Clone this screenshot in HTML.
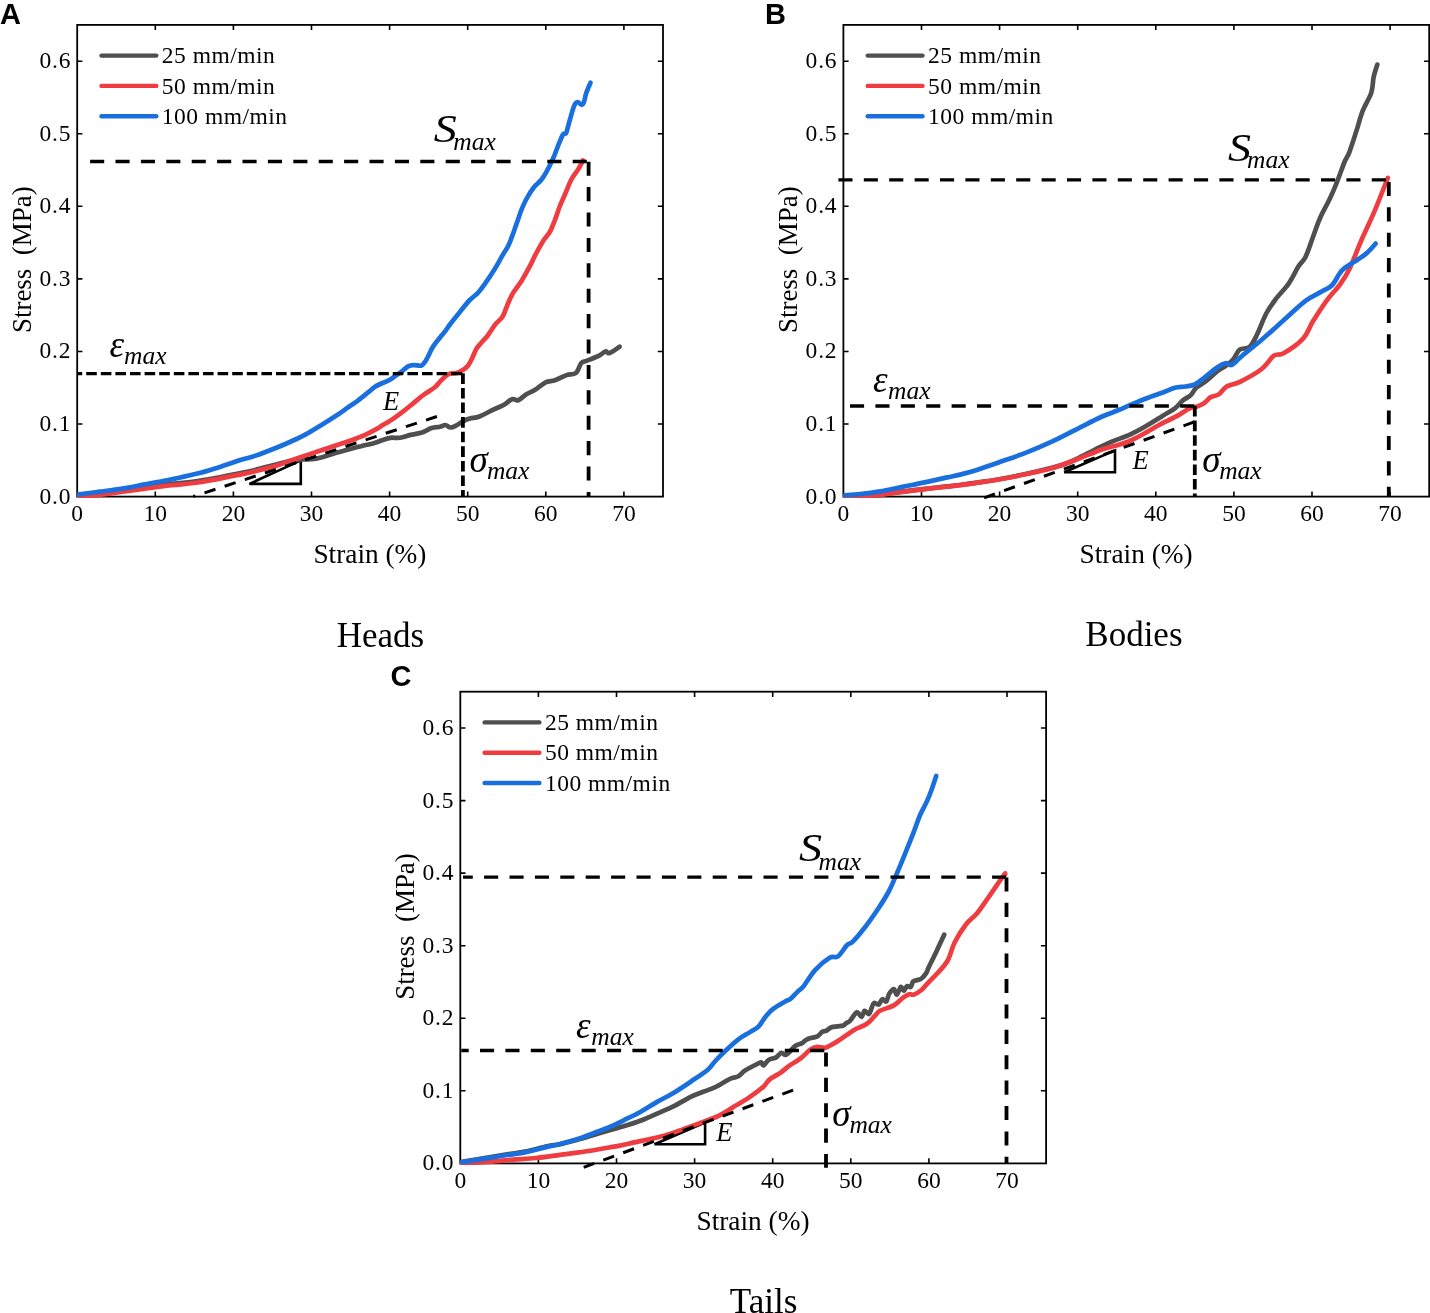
<!DOCTYPE html>
<html><head><meta charset="utf-8"><title>Stress-strain curves</title>
<style>
html,body{margin:0;padding:0;background:#fff;}
body{width:1430px;height:1313px;overflow:hidden;}
svg{display:block;will-change:transform;}
.tk{font-family:"Liberation Serif", serif;font-size:23.5px;fill:#000;}
.al{font-family:"Liberation Serif", serif;font-size:28px;fill:#000;}
.cap{font-family:"Liberation Serif", serif;font-size:35px;fill:#000;}
.pl{font-family:"Liberation Sans", sans-serif;font-size:29px;font-weight:bold;fill:#000;}
.big{font-family:"Liberation Serif", serif;font-size:40px;font-style:italic;fill:#000;}
.gk{font-family:"Liberation Serif", serif;font-size:37px;font-style:italic;fill:#000;}
.yl{letter-spacing:0.8px;}
.lg{letter-spacing:0.5px;}
.sub{font-family:"Liberation Serif", serif;font-size:25.5px;font-style:italic;fill:#000;}
.E{font-family:"Liberation Serif", serif;font-size:26.5px;font-style:italic;fill:#000;}
</style></head><body>
<svg width="1430" height="1313" viewBox="0 0 1430 1313">
<rect width="1430" height="1313" fill="#fff"/>
<text x="0" y="24.3" class="pl">A</text>
<text x="765" y="24.1" class="pl">B</text>
<text x="390.6" y="685.8" class="pl">C</text>
<rect x="77.2" y="24.9" width="585.8" height="471.7" fill="none" stroke="#000" stroke-width="1.8"/>
<path d="M155.3 496.6V491.4M155.3 24.9V30.1M233.4 496.6V491.4M233.4 24.9V30.1M311.5 496.6V491.4M311.5 24.9V30.1M389.6 496.6V491.4M389.6 24.9V30.1M467.7 496.6V491.4M467.7 24.9V30.1M545.8 496.6V491.4M545.8 24.9V30.1M623.9 496.6V491.4M623.9 24.9V30.1M77.2 424.0H82.4M663.0 424.0H657.8M77.2 351.5H82.4M663.0 351.5H657.8M77.2 278.9H82.4M663.0 278.9H657.8M77.2 206.3H82.4M663.0 206.3H657.8M77.2 133.8H82.4M663.0 133.8H657.8M77.2 61.2H82.4M663.0 61.2H657.8" stroke="#000" stroke-width="1.6" fill="none"/>
<text x="77.2" y="521.2" text-anchor="middle" class="tk">0</text>
<text x="155.3" y="521.2" text-anchor="middle" class="tk">10</text>
<text x="233.4" y="521.2" text-anchor="middle" class="tk">20</text>
<text x="311.5" y="521.2" text-anchor="middle" class="tk">30</text>
<text x="389.6" y="521.2" text-anchor="middle" class="tk">40</text>
<text x="467.7" y="521.2" text-anchor="middle" class="tk">50</text>
<text x="545.8" y="521.2" text-anchor="middle" class="tk">60</text>
<text x="623.9" y="521.2" text-anchor="middle" class="tk">70</text>
<text x="71.2" y="503.5" text-anchor="end" class="tk yl">0.0</text>
<text x="71.2" y="430.9" text-anchor="end" class="tk yl">0.1</text>
<text x="71.2" y="358.4" text-anchor="end" class="tk yl">0.2</text>
<text x="71.2" y="285.8" text-anchor="end" class="tk yl">0.3</text>
<text x="71.2" y="213.2" text-anchor="end" class="tk yl">0.4</text>
<text x="71.2" y="140.7" text-anchor="end" class="tk yl">0.5</text>
<text x="71.2" y="68.1" text-anchor="end" class="tk yl">0.6</text>
<text x="369.9" y="562.8" text-anchor="middle" class="al" textLength="113" lengthAdjust="spacingAndGlyphs">Strain (%)</text>
<text transform="translate(30.8 259.7) rotate(-90)" text-anchor="middle" class="al" textLength="146.6" lengthAdjust="spacingAndGlyphs" xml:space="preserve">Stress  (MPa)</text>
<line x1="101.5" y1="55.6" x2="156.3" y2="55.6" stroke="#4f4f4f" stroke-width="4.4" stroke-linecap="round"/>
<text x="161.8" y="63.3" class="tk lg">25 mm/min</text>
<line x1="101.5" y1="85.9" x2="156.3" y2="85.9" stroke="#ee3c40" stroke-width="4.4" stroke-linecap="round"/>
<text x="161.8" y="93.6" class="tk lg">50 mm/min</text>
<line x1="101.5" y1="116.2" x2="156.3" y2="116.2" stroke="#1a6fdf" stroke-width="4.4" stroke-linecap="round"/>
<text x="161.8" y="123.9" class="tk lg">100 mm/min</text>
<rect x="843.4" y="24.9" width="585.8" height="471.7" fill="none" stroke="#000" stroke-width="1.8"/>
<path d="M921.5 496.6V491.4M921.5 24.9V30.1M999.6 496.6V491.4M999.6 24.9V30.1M1077.7 496.6V491.4M1077.7 24.9V30.1M1155.8 496.6V491.4M1155.8 24.9V30.1M1233.9 496.6V491.4M1233.9 24.9V30.1M1312.0 496.6V491.4M1312.0 24.9V30.1M1390.1 496.6V491.4M1390.1 24.9V30.1M843.4 424.0H848.6M1429.2 424.0H1424.0M843.4 351.5H848.6M1429.2 351.5H1424.0M843.4 278.9H848.6M1429.2 278.9H1424.0M843.4 206.3H848.6M1429.2 206.3H1424.0M843.4 133.8H848.6M1429.2 133.8H1424.0M843.4 61.2H848.6M1429.2 61.2H1424.0" stroke="#000" stroke-width="1.6" fill="none"/>
<text x="843.4" y="521.2" text-anchor="middle" class="tk">0</text>
<text x="921.5" y="521.2" text-anchor="middle" class="tk">10</text>
<text x="999.6" y="521.2" text-anchor="middle" class="tk">20</text>
<text x="1077.7" y="521.2" text-anchor="middle" class="tk">30</text>
<text x="1155.8" y="521.2" text-anchor="middle" class="tk">40</text>
<text x="1233.9" y="521.2" text-anchor="middle" class="tk">50</text>
<text x="1312.0" y="521.2" text-anchor="middle" class="tk">60</text>
<text x="1390.1" y="521.2" text-anchor="middle" class="tk">70</text>
<text x="837.4" y="503.5" text-anchor="end" class="tk yl">0.0</text>
<text x="837.4" y="430.9" text-anchor="end" class="tk yl">0.1</text>
<text x="837.4" y="358.4" text-anchor="end" class="tk yl">0.2</text>
<text x="837.4" y="285.8" text-anchor="end" class="tk yl">0.3</text>
<text x="837.4" y="213.2" text-anchor="end" class="tk yl">0.4</text>
<text x="837.4" y="140.7" text-anchor="end" class="tk yl">0.5</text>
<text x="837.4" y="68.1" text-anchor="end" class="tk yl">0.6</text>
<text x="1136.1" y="562.8" text-anchor="middle" class="al" textLength="113" lengthAdjust="spacingAndGlyphs">Strain (%)</text>
<text transform="translate(797.0 259.7) rotate(-90)" text-anchor="middle" class="al" textLength="146.6" lengthAdjust="spacingAndGlyphs" xml:space="preserve">Stress  (MPa)</text>
<line x1="867.7" y1="55.6" x2="922.5" y2="55.6" stroke="#4f4f4f" stroke-width="4.4" stroke-linecap="round"/>
<text x="928.0" y="63.3" class="tk lg">25 mm/min</text>
<line x1="867.7" y1="85.9" x2="922.5" y2="85.9" stroke="#ee3c40" stroke-width="4.4" stroke-linecap="round"/>
<text x="928.0" y="93.6" class="tk lg">50 mm/min</text>
<line x1="867.7" y1="116.2" x2="922.5" y2="116.2" stroke="#1a6fdf" stroke-width="4.4" stroke-linecap="round"/>
<text x="928.0" y="123.9" class="tk lg">100 mm/min</text>
<rect x="460.3" y="691.7" width="585.8" height="471.7" fill="none" stroke="#000" stroke-width="1.8"/>
<path d="M538.4 1163.4V1158.2M538.4 691.7V696.9M616.5 1163.4V1158.2M616.5 691.7V696.9M694.6 1163.4V1158.2M694.6 691.7V696.9M772.7 1163.4V1158.2M772.7 691.7V696.9M850.8 1163.4V1158.2M850.8 691.7V696.9M928.9 1163.4V1158.2M928.9 691.7V696.9M1007.0 1163.4V1158.2M1007.0 691.7V696.9M460.3 1090.8H465.5M1046.1 1090.8H1040.9M460.3 1018.3H465.5M1046.1 1018.3H1040.9M460.3 945.7H465.5M1046.1 945.7H1040.9M460.3 873.1H465.5M1046.1 873.1H1040.9M460.3 800.6H465.5M1046.1 800.6H1040.9M460.3 728.0H465.5M1046.1 728.0H1040.9" stroke="#000" stroke-width="1.6" fill="none"/>
<text x="460.3" y="1188.0" text-anchor="middle" class="tk">0</text>
<text x="538.4" y="1188.0" text-anchor="middle" class="tk">10</text>
<text x="616.5" y="1188.0" text-anchor="middle" class="tk">20</text>
<text x="694.6" y="1188.0" text-anchor="middle" class="tk">30</text>
<text x="772.7" y="1188.0" text-anchor="middle" class="tk">40</text>
<text x="850.8" y="1188.0" text-anchor="middle" class="tk">50</text>
<text x="928.9" y="1188.0" text-anchor="middle" class="tk">60</text>
<text x="1007.0" y="1188.0" text-anchor="middle" class="tk">70</text>
<text x="454.3" y="1170.3" text-anchor="end" class="tk yl">0.0</text>
<text x="454.3" y="1097.7" text-anchor="end" class="tk yl">0.1</text>
<text x="454.3" y="1025.2" text-anchor="end" class="tk yl">0.2</text>
<text x="454.3" y="952.6" text-anchor="end" class="tk yl">0.3</text>
<text x="454.3" y="880.0" text-anchor="end" class="tk yl">0.4</text>
<text x="454.3" y="807.5" text-anchor="end" class="tk yl">0.5</text>
<text x="454.3" y="734.9" text-anchor="end" class="tk yl">0.6</text>
<text x="753.0" y="1229.6" text-anchor="middle" class="al" textLength="113" lengthAdjust="spacingAndGlyphs">Strain (%)</text>
<text transform="translate(413.9 926.5) rotate(-90)" text-anchor="middle" class="al" textLength="146.6" lengthAdjust="spacingAndGlyphs" xml:space="preserve">Stress  (MPa)</text>
<line x1="484.6" y1="722.4" x2="539.4" y2="722.4" stroke="#4f4f4f" stroke-width="4.4" stroke-linecap="round"/>
<text x="544.9" y="730.1" class="tk lg">25 mm/min</text>
<line x1="484.6" y1="752.7" x2="539.4" y2="752.7" stroke="#ee3c40" stroke-width="4.4" stroke-linecap="round"/>
<text x="544.9" y="760.4" class="tk lg">50 mm/min</text>
<line x1="484.6" y1="783.0" x2="539.4" y2="783.0" stroke="#1a6fdf" stroke-width="4.4" stroke-linecap="round"/>
<text x="544.9" y="790.7" class="tk lg">100 mm/min</text>
<path d="M249.4 483.9L300.8 483.9L300.8 460.4Z" fill="none" stroke="#000" stroke-width="2.6" stroke-linejoin="miter"/>
<path d="M1064.2 472.2L1115.0 472.2L1115.0 450.4Z" fill="none" stroke="#000" stroke-width="2.6" stroke-linejoin="miter"/>
<path d="M654.5 1144.3L705.1 1144.3L705.1 1122.5Z" fill="none" stroke="#000" stroke-width="2.6" stroke-linejoin="miter"/>
<defs>
<clipPath id="clipA"><rect x="77.2" y="14.9" width="595.8" height="483.2"/></clipPath>
<clipPath id="clipB"><rect x="843.4" y="14.9" width="595.8" height="483.2"/></clipPath>
<clipPath id="clipC"><rect x="460.3" y="681.7" width="595.8" height="483.2"/></clipPath>
</defs>
<g clip-path="url(#clipA)">
<path d="M77.5 496.2C81.2 495.8 92.5 494.5 100.0 493.5C107.5 492.5 114.9 491.4 122.4 490.4C129.9 489.4 137.4 488.3 144.8 487.3C152.2 486.3 162.1 484.9 167.1 484.3C172.1 483.7 169.9 484.2 175.0 483.7C180.1 483.1 189.9 482.1 197.4 481.0C204.9 479.9 212.4 478.6 219.8 477.2C227.2 475.8 236.2 474.0 242.1 472.8C248.0 471.6 249.2 471.4 255.0 470.0C260.8 468.6 270.3 465.9 277.0 464.2C283.7 462.5 288.7 460.9 295.2 460.0C301.7 459.1 309.2 459.9 316.2 458.6C323.2 457.4 331.8 454.0 337.2 452.5C342.6 451.0 344.4 450.6 348.4 449.5C352.4 448.4 356.8 447.2 361.0 446.2C365.2 445.1 370.1 444.2 373.6 443.2C377.1 442.2 379.2 441.2 382.0 440.3C384.8 439.4 387.4 438.2 390.4 437.8C393.4 437.4 396.6 438.3 400.0 437.8C403.4 437.3 407.1 435.7 410.6 434.9C414.1 434.1 417.6 433.9 421.1 432.8C424.6 431.7 428.5 429.1 431.6 428.1C434.8 427.1 437.7 427.3 440.0 426.8C442.3 426.3 443.5 424.9 445.3 425.0C447.1 425.1 448.7 427.5 450.7 427.5C452.7 427.5 455.1 426.0 457.1 425.0C459.1 424.0 460.8 422.4 462.9 421.3C465.0 420.2 467.1 419.4 469.9 418.6C472.6 417.8 475.5 418.0 479.4 416.5C483.3 415.0 489.3 411.5 493.3 409.6C497.3 407.7 500.5 406.7 503.6 405.0C506.7 403.3 509.6 400.0 512.0 399.2C514.5 398.4 515.8 401.1 518.3 400.2C520.8 399.3 523.9 395.7 526.7 394.0C529.5 392.3 532.0 391.7 535.1 389.8C538.2 387.9 542.3 384.0 545.6 382.4C548.9 380.8 551.5 381.5 555.0 380.3C558.5 379.1 563.1 376.3 566.6 375.1C570.1 373.9 573.5 375.0 576.0 373.0C578.5 371.0 579.5 365.0 581.3 363.0C583.0 361.0 583.5 362.1 586.5 360.9C589.5 359.7 596.0 357.3 599.1 355.7C602.2 354.1 603.6 351.9 605.4 351.5C607.1 351.1 607.2 353.8 609.6 353.0C612.0 352.2 617.9 347.8 619.5 346.7" fill="none" stroke="#4f4f4f" stroke-width="4.7" stroke-linejoin="round" stroke-linecap="round"/>
<path d="M77.5 496.4C81.2 496.1 92.5 495.6 100.0 494.8C107.5 494.0 114.9 492.7 122.4 491.7C129.9 490.7 137.4 489.6 144.8 488.6C152.2 487.6 162.1 486.2 167.1 485.6C172.1 485.0 169.9 485.5 175.0 485.0C180.1 484.5 189.9 483.6 197.4 482.5C204.9 481.4 212.4 480.0 219.8 478.6C227.2 477.2 236.2 475.3 242.1 474.1C248.0 472.9 249.2 472.7 255.0 471.3C260.8 469.9 270.3 467.6 277.0 465.5C283.7 463.4 288.7 461.2 295.2 459.0C301.7 456.8 309.2 454.3 316.2 452.0C323.2 449.7 331.8 446.8 337.2 445.0C342.6 443.2 345.1 442.4 348.4 441.3C351.7 440.2 354.0 439.3 356.8 438.2C359.6 437.1 362.4 436.1 365.2 434.8C368.0 433.5 370.8 432.1 373.6 430.6C376.4 429.1 379.2 427.3 382.0 425.6C384.8 423.9 387.4 422.6 390.4 420.6C393.4 418.6 396.6 416.3 400.0 413.8C403.4 411.3 407.3 408.2 410.6 405.5C413.9 402.8 417.4 399.7 420.0 397.6C422.6 395.5 423.6 394.9 426.1 393.1C428.6 391.3 432.9 388.9 435.2 387.0C437.5 385.1 438.4 383.3 440.1 381.5C441.8 379.7 443.9 377.4 445.6 376.1C447.3 374.8 448.7 374.1 450.5 373.6C452.3 373.1 454.6 373.6 456.6 373.0C458.6 372.4 460.9 371.1 462.7 370.0C464.5 368.9 466.0 368.1 467.5 366.3C469.0 364.5 470.4 361.8 471.8 359.0C473.2 356.2 474.6 351.9 476.1 349.3C477.6 346.7 479.1 345.3 480.9 343.2C482.7 341.1 485.2 338.8 487.0 336.5C488.8 334.2 490.1 331.9 491.6 329.7C493.1 327.5 494.2 325.6 496.0 323.5C497.8 321.4 500.6 319.9 502.5 316.8C504.4 313.7 505.8 308.8 507.4 305.0C509.0 301.2 510.1 298.1 512.4 294.1C514.7 290.1 518.5 285.7 521.3 281.2C524.1 276.7 526.7 271.9 529.2 267.3C531.7 262.7 533.6 258.1 536.1 253.5C538.6 248.9 541.8 243.2 544.1 239.6C546.4 236.0 548.2 235.0 550.0 231.7C551.8 228.4 553.4 223.9 555.0 219.8C556.6 215.7 557.9 211.2 559.5 207.0C561.1 202.8 562.8 199.3 564.8 194.8C566.8 190.3 569.1 183.9 571.2 179.8C573.3 175.7 575.6 173.4 577.6 170.2C579.6 167.0 582.1 162.1 583.0 160.5" fill="none" stroke="#ee3c40" stroke-width="4.7" stroke-linejoin="round" stroke-linecap="round"/>
<path d="M77.5 494.6C81.2 494.1 92.5 492.7 100.0 491.7C107.5 490.7 114.9 489.8 122.4 488.6C129.9 487.4 137.4 485.8 144.8 484.4C152.2 483.0 162.1 481.3 167.1 480.3C172.1 479.3 169.9 479.7 175.0 478.6C180.1 477.5 189.9 475.6 197.4 473.6C204.9 471.7 212.4 469.2 219.8 466.9C227.2 464.6 236.2 461.4 242.1 459.6C248.0 457.8 249.2 457.9 255.0 455.9C260.8 453.9 271.0 449.9 277.0 447.5C283.0 445.1 286.2 443.7 291.0 441.5C295.8 439.3 300.6 437.2 305.7 434.4C310.8 431.6 316.2 428.1 321.5 424.9C326.8 421.7 332.8 417.9 337.2 415.0C341.6 412.1 344.2 410.1 347.7 407.6C351.2 405.2 354.7 402.9 358.2 400.3C361.7 397.7 365.7 394.3 368.7 391.9C371.7 389.5 372.7 388.0 376.0 386.1C379.3 384.2 385.5 382.0 388.6 380.4C391.8 378.8 392.8 377.6 394.9 376.2C397.0 374.8 398.9 373.7 401.2 372.0C403.5 370.3 406.4 367.3 408.5 366.2C410.6 365.1 411.7 365.2 413.8 365.1C415.9 365.0 419.3 366.1 421.1 365.7C422.9 365.3 423.5 363.7 424.5 362.5C425.5 361.3 425.7 360.9 427.0 358.5C428.3 356.1 430.6 350.8 432.2 348.0C433.8 345.2 435.0 343.9 436.5 341.9C438.0 339.9 439.7 337.8 441.3 335.8C442.9 333.8 444.7 331.8 446.2 329.8C447.7 327.8 448.2 326.7 450.5 323.7C452.8 320.7 456.7 315.8 459.9 311.9C463.1 307.9 466.8 303.1 469.8 300.0C472.8 296.9 475.2 295.7 477.7 293.1C480.2 290.5 481.9 288.2 484.7 284.2C487.5 280.2 491.6 274.1 494.6 269.3C497.6 264.5 500.2 259.4 502.5 255.4C504.8 251.4 506.6 249.3 508.4 245.5C510.2 241.7 511.8 237.1 513.4 232.7C515.0 228.2 517.0 222.5 518.3 218.8C519.6 215.1 519.8 213.9 521.1 210.6C522.5 207.3 524.3 202.9 526.4 199.0C528.5 195.1 531.4 190.4 533.9 187.2C536.4 184.0 539.2 182.5 541.3 179.8C543.4 177.2 544.7 174.9 546.7 171.3C548.7 167.8 551.3 162.4 553.1 158.5C554.9 154.6 555.7 151.7 557.3 147.8C558.9 143.9 561.3 137.4 562.7 135.0C564.1 132.6 565.1 134.5 565.9 133.4C566.7 132.3 566.8 131.0 567.5 128.6C568.2 126.2 569.0 122.9 570.1 119.0C571.2 115.1 573.1 108.0 574.4 105.2C575.6 102.4 576.4 102.1 577.6 102.0C578.8 101.9 580.7 104.7 581.8 104.7C582.9 104.7 583.3 103.9 584.0 102.0C584.7 100.1 585.0 96.7 586.1 93.5C587.2 90.3 589.7 84.6 590.4 82.8" fill="none" stroke="#1a6fdf" stroke-width="4.7" stroke-linejoin="round" stroke-linecap="round"/>
</g>
<g clip-path="url(#clipB)">
<path d="M844.0 496.6C846.8 496.6 855.0 496.6 861.0 496.3C867.0 496.0 873.1 495.6 880.0 494.8C886.9 494.0 894.9 492.7 902.4 491.7C909.9 490.7 917.3 489.8 924.8 488.9C932.2 488.0 941.2 487.0 947.1 486.4C953.0 485.8 955.3 485.6 960.0 485.0C964.7 484.4 968.5 483.9 975.2 482.9C981.9 481.9 992.0 480.5 1000.4 479.0C1008.8 477.5 1017.1 475.8 1025.5 474.0C1033.9 472.2 1044.1 469.7 1050.7 468.0C1057.3 466.3 1060.8 465.5 1065.0 464.0C1069.2 462.5 1072.0 461.1 1075.9 459.2C1079.8 457.3 1084.3 455.0 1088.5 452.9C1092.7 450.8 1096.8 448.6 1101.0 446.6C1105.2 444.6 1108.8 442.9 1113.6 440.9C1118.4 438.9 1124.7 437.0 1130.0 434.6C1135.3 432.2 1140.2 429.5 1145.7 426.3C1151.2 423.1 1158.0 418.7 1162.9 415.7C1167.8 412.7 1171.6 410.9 1174.9 408.4C1178.2 405.8 1180.2 402.6 1182.9 400.4C1185.6 398.2 1188.6 397.2 1190.8 395.1C1193.0 393.0 1193.5 390.2 1196.2 387.8C1198.9 385.4 1203.3 383.3 1206.8 380.5C1210.3 377.7 1214.1 373.8 1217.4 371.2C1220.7 368.6 1224.0 367.2 1226.7 365.2C1229.4 363.2 1231.2 361.8 1233.4 359.2C1235.6 356.6 1237.0 351.6 1239.7 349.6C1242.4 347.6 1246.7 349.5 1249.5 347.1C1252.3 344.7 1254.0 340.7 1256.8 335.0C1259.6 329.3 1263.2 319.1 1266.5 313.0C1269.8 306.9 1272.6 303.3 1276.3 298.4C1280.0 293.5 1284.8 289.1 1288.5 283.8C1292.2 278.5 1295.4 271.3 1298.2 266.8C1301.0 262.3 1303.1 261.9 1305.5 257.0C1307.9 252.1 1310.4 244.0 1312.8 237.5C1315.2 231.0 1317.2 224.5 1320.1 218.0C1322.9 211.5 1327.1 204.7 1329.9 198.6C1332.8 192.5 1334.8 187.6 1337.2 181.5C1339.6 175.4 1342.5 166.9 1344.5 162.0C1346.5 157.1 1347.3 157.6 1349.3 152.3C1351.3 147.0 1354.4 137.3 1356.6 130.4C1358.8 123.5 1360.2 117.2 1362.7 110.9C1365.2 104.6 1369.5 98.3 1371.3 92.6C1373.1 86.9 1372.7 81.5 1373.7 76.8C1374.7 72.1 1376.7 66.6 1377.3 64.6" fill="none" stroke="#4f4f4f" stroke-width="4.7" stroke-linejoin="round" stroke-linecap="round"/>
<path d="M844.0 496.7C846.8 496.6 855.0 496.7 861.0 496.4C867.0 496.1 873.1 495.8 880.0 495.0C886.9 494.2 894.9 492.9 902.4 491.9C909.9 490.9 917.3 490.0 924.8 489.1C932.2 488.2 941.2 487.2 947.1 486.6C953.0 486.0 955.3 485.8 960.0 485.2C964.7 484.6 968.5 484.1 975.2 483.1C981.9 482.1 992.0 480.8 1000.4 479.3C1008.8 477.8 1017.1 476.1 1025.5 474.3C1033.9 472.5 1042.3 471.0 1050.7 468.6C1059.1 466.2 1067.5 463.0 1075.9 459.8C1084.3 456.6 1094.2 452.1 1101.0 449.7C1107.8 447.3 1111.6 446.9 1116.4 445.5C1121.2 444.1 1125.3 442.9 1129.7 441.0C1134.1 439.1 1138.1 437.0 1143.0 434.3C1147.9 431.6 1153.5 428.0 1159.0 425.0C1164.5 422.0 1171.1 419.2 1176.2 416.4C1181.3 413.6 1186.0 410.1 1189.5 408.4C1193.0 406.7 1195.1 407.3 1197.5 406.4C1199.9 405.5 1201.9 404.7 1204.1 403.1C1206.3 401.6 1208.4 398.6 1210.8 397.1C1213.2 395.7 1216.0 396.2 1218.7 394.4C1221.4 392.6 1223.2 388.6 1226.7 386.5C1230.2 384.4 1234.2 384.7 1240.0 381.8C1245.8 378.9 1256.1 373.4 1261.7 369.0C1267.3 364.6 1270.2 358.3 1273.8 355.7C1277.4 353.1 1278.7 356.0 1283.6 353.2C1288.5 350.4 1298.2 343.9 1303.1 338.6C1308.0 333.3 1308.8 328.1 1312.8 321.6C1316.8 315.1 1322.9 305.7 1327.4 299.6C1331.9 293.5 1335.9 290.1 1339.6 285.0C1343.2 279.9 1345.6 276.7 1349.3 269.2C1353.0 261.7 1357.4 249.3 1361.5 240.0C1365.6 230.7 1369.3 223.5 1373.7 213.2C1378.1 202.8 1385.5 183.8 1387.8 177.9" fill="none" stroke="#ee3c40" stroke-width="4.7" stroke-linejoin="round" stroke-linecap="round"/>
<path d="M844.0 495.3C846.7 495.1 854.0 494.9 860.0 494.2C866.0 493.5 872.9 492.6 880.0 491.4C887.1 490.2 894.9 488.4 902.4 486.9C909.9 485.4 917.3 484.0 924.8 482.4C932.2 480.8 941.2 478.7 947.1 477.4C953.0 476.1 955.3 475.8 960.0 474.6C964.7 473.5 968.5 472.6 975.2 470.5C981.9 468.4 992.0 464.6 1000.4 461.7C1008.8 458.8 1017.1 456.1 1025.5 452.9C1033.9 449.6 1042.3 446.1 1050.7 442.2C1059.1 438.3 1067.5 433.8 1075.9 429.6C1084.3 425.4 1094.7 419.9 1101.0 417.0C1107.3 414.1 1109.7 413.6 1113.6 412.0C1117.5 410.4 1120.6 409.2 1124.4 407.6C1128.2 406.0 1132.2 404.1 1136.4 402.4C1140.6 400.6 1145.3 398.8 1149.7 397.1C1154.1 395.5 1158.7 394.1 1162.9 392.5C1167.1 390.9 1171.1 388.8 1174.9 387.8C1178.7 386.8 1182.2 387.1 1185.5 386.5C1188.8 385.9 1191.7 385.9 1194.8 384.5C1197.9 383.1 1200.3 380.7 1204.1 377.8C1207.9 374.9 1213.9 369.6 1217.4 367.2C1221.0 364.8 1223.0 363.6 1225.4 363.2C1227.8 362.8 1229.2 366.1 1232.0 364.8C1234.8 363.6 1237.2 359.9 1242.2 355.7C1247.2 351.5 1254.8 345.7 1261.7 339.8C1268.6 333.9 1276.3 326.8 1283.6 320.3C1290.9 313.8 1299.0 305.8 1305.5 300.9C1312.0 296.0 1318.0 293.8 1322.5 291.1C1327.0 288.5 1329.0 288.4 1332.3 285.0C1335.5 281.6 1338.3 274.2 1342.0 270.4C1345.7 266.5 1350.1 264.7 1354.2 261.9C1358.3 259.1 1362.8 256.4 1366.4 253.4C1370.0 250.4 1374.1 245.2 1375.6 243.6" fill="none" stroke="#1a6fdf" stroke-width="4.7" stroke-linejoin="round" stroke-linecap="round"/>
</g>
<g clip-path="url(#clipC)">
<path d="M460.8 1162.0C464.0 1161.5 473.1 1160.0 480.0 1158.8C486.9 1157.6 494.9 1156.3 502.4 1155.1C509.9 1153.9 517.3 1153.1 524.8 1151.6C532.2 1150.1 541.2 1147.5 547.1 1146.3C553.0 1145.1 555.0 1145.3 560.0 1144.3C565.0 1143.2 571.2 1141.5 576.8 1140.0C582.4 1138.5 588.0 1136.7 593.6 1135.0C599.2 1133.3 605.4 1131.5 610.4 1130.0C615.4 1128.5 618.6 1127.8 623.6 1126.3C628.6 1124.8 634.7 1122.9 640.3 1120.8C645.9 1118.7 651.5 1116.0 657.1 1113.6C662.7 1111.1 668.3 1108.9 673.9 1106.1C679.5 1103.3 685.8 1099.3 690.7 1096.9C695.6 1094.5 699.2 1093.4 703.3 1091.8C707.4 1090.2 710.8 1089.3 715.3 1087.1C719.8 1084.9 726.1 1080.6 730.0 1078.8C733.9 1077.0 735.9 1077.7 738.4 1076.3C740.9 1074.9 742.3 1072.3 745.1 1070.4C747.9 1068.5 752.6 1066.3 755.2 1065.0C757.9 1063.7 759.6 1062.3 761.0 1062.4C762.4 1062.5 762.3 1065.8 763.6 1065.4C764.9 1065.0 766.5 1061.2 768.6 1059.9C770.7 1058.6 774.1 1058.6 776.2 1057.4C778.3 1056.2 779.7 1053.2 781.2 1052.8C782.7 1052.4 784.1 1054.9 785.4 1054.9C786.6 1054.9 787.0 1054.3 788.7 1052.8C790.4 1051.3 793.2 1047.3 795.5 1045.7C797.8 1044.1 800.5 1044.0 802.2 1043.1C803.9 1042.2 804.1 1041.0 805.5 1040.2C806.9 1039.4 808.6 1038.7 810.6 1038.1C812.6 1037.5 815.3 1037.5 817.3 1036.4C819.2 1035.4 820.8 1032.8 822.3 1031.8C823.8 1030.8 825.0 1031.4 826.5 1030.6C828.0 1029.8 829.7 1027.9 831.5 1027.2C833.3 1026.5 835.4 1026.7 837.4 1026.4C839.4 1026.1 841.8 1026.0 843.3 1025.5C844.8 1025.0 845.1 1023.9 846.2 1023.1C847.3 1022.3 848.2 1022.6 850.0 1020.8C851.8 1019.0 855.0 1012.9 856.9 1012.3C858.8 1011.6 860.2 1017.1 861.5 1016.9C862.8 1016.6 863.3 1011.3 864.6 1010.8C865.9 1010.3 867.7 1015.1 869.2 1013.8C870.7 1012.5 872.2 1004.6 873.8 1003.1C875.3 1001.6 877.1 1005.2 878.5 1004.6C879.9 1004.0 881.0 999.7 882.3 999.2C883.6 998.7 885.1 1002.4 886.2 1001.5C887.4 1000.6 887.9 995.8 889.2 993.8C890.5 991.8 892.5 989.1 893.8 989.2C895.1 989.3 895.7 995.0 896.9 994.6C898.1 994.2 899.6 987.5 900.8 986.9C901.9 986.3 902.8 990.9 903.8 990.8C904.8 990.7 905.7 986.9 906.9 986.2C908.1 985.6 909.8 987.7 910.8 986.9C911.8 986.1 912.0 982.6 913.1 981.5C914.2 980.4 916.3 980.5 917.7 980.0C919.1 979.5 920.1 979.6 921.5 978.5C922.9 977.4 925.0 974.9 926.2 973.1C927.4 971.3 927.5 969.9 928.5 967.7C929.5 965.5 931.0 962.6 932.3 960.0C933.6 957.4 934.2 956.1 936.2 951.9C938.2 947.7 942.9 937.6 944.2 934.7" fill="none" stroke="#4f4f4f" stroke-width="4.7" stroke-linejoin="round" stroke-linecap="round"/>
<path d="M460.8 1163.3C464.0 1163.2 474.9 1162.7 480.0 1162.4C485.1 1162.1 485.6 1162.2 491.2 1161.7C496.8 1161.2 506.2 1160.3 513.6 1159.7C521.1 1159.1 528.2 1158.8 535.9 1158.0C543.6 1157.2 553.2 1155.7 560.0 1154.8C566.8 1153.9 571.2 1153.5 576.8 1152.7C582.4 1151.9 588.0 1151.1 593.6 1150.2C599.2 1149.3 606.0 1148.1 610.4 1147.3C614.8 1146.5 615.1 1146.6 620.0 1145.6C624.9 1144.6 633.0 1142.6 640.0 1141.1C647.0 1139.5 654.5 1138.3 661.7 1136.3C668.9 1134.3 676.2 1131.6 683.4 1129.1C690.6 1126.6 699.1 1123.4 705.1 1121.1C711.1 1118.8 714.8 1117.7 719.6 1115.3C724.4 1112.9 729.3 1109.5 734.1 1106.6C738.9 1103.7 743.7 1101.2 748.5 1097.9C753.3 1094.7 759.5 1090.1 763.0 1087.1C766.5 1084.0 766.5 1082.0 769.4 1079.6C772.3 1077.2 777.1 1075.1 780.3 1072.9C783.5 1070.7 785.2 1068.7 788.7 1066.2C792.2 1063.7 797.6 1060.6 801.3 1057.8C804.9 1055.0 807.9 1051.2 810.6 1049.4C813.3 1047.6 814.9 1047.2 817.3 1046.9C819.7 1046.6 822.6 1048.1 824.8 1047.8C827.0 1047.5 828.3 1046.5 830.7 1045.2C833.1 1043.9 835.9 1042.3 839.1 1040.2C842.3 1038.1 847.3 1034.5 850.0 1032.7C852.7 1030.9 852.6 1030.7 855.4 1029.2C858.2 1027.7 863.7 1026.0 866.9 1023.8C870.1 1021.6 872.4 1018.4 874.6 1016.2C876.8 1014.0 876.8 1012.6 880.0 1010.8C883.2 1009.0 889.9 1007.6 893.8 1005.4C897.6 1003.2 900.5 999.6 903.1 997.7C905.7 995.8 907.4 994.7 909.2 994.2C911.0 993.7 911.8 995.3 913.8 994.6C915.8 993.9 919.0 992.0 921.5 990.0C924.0 988.0 925.9 985.0 928.5 982.3C931.1 979.6 933.7 977.4 936.9 973.8C940.1 970.2 944.8 965.7 947.7 960.5C950.6 955.3 951.5 948.7 954.5 942.7C957.5 936.7 962.1 929.5 965.9 924.5C969.7 919.5 973.5 917.6 977.3 913.0C981.1 908.4 984.3 903.3 988.7 897.0C993.1 890.7 1000.9 879.0 1003.6 875.3C1006.3 871.5 1004.8 874.6 1005.0 874.5" fill="none" stroke="#ee3c40" stroke-width="4.7" stroke-linejoin="round" stroke-linecap="round"/>
<path d="M460.8 1162.3C464.0 1161.8 473.1 1160.5 480.0 1159.4C486.9 1158.3 494.9 1157.0 502.4 1155.8C509.9 1154.6 517.3 1153.9 524.8 1152.4C532.2 1150.9 541.2 1148.3 547.1 1146.9C553.0 1145.5 555.0 1145.4 560.0 1144.1C565.0 1142.8 571.2 1141.1 576.8 1139.3C582.4 1137.5 588.0 1135.3 593.6 1133.2C599.2 1131.1 605.4 1128.9 610.4 1126.7C615.4 1124.5 618.6 1122.8 623.6 1120.3C628.6 1117.8 634.7 1115.1 640.3 1112.0C645.9 1108.9 651.5 1105.1 657.1 1101.9C662.7 1098.7 668.3 1096.1 673.9 1092.7C679.5 1089.3 685.1 1085.5 690.7 1081.7C696.3 1077.9 703.4 1073.5 707.5 1070.0C711.6 1066.5 712.1 1064.4 715.3 1061.0C718.5 1057.6 722.9 1053.1 726.8 1049.5C730.6 1045.9 734.5 1042.2 738.4 1039.3C742.3 1036.4 746.6 1034.3 750.0 1032.1C753.4 1029.9 756.1 1028.9 758.7 1026.3C761.4 1023.6 763.5 1019.1 765.9 1016.2C768.3 1013.3 770.0 1011.3 773.1 1008.9C776.2 1006.5 781.8 1003.4 784.7 1001.7C787.6 1000.0 788.3 1000.5 790.5 998.8C792.7 997.1 795.5 993.7 797.7 991.6C799.9 989.5 800.8 989.7 803.7 986.1C806.6 982.5 810.7 974.9 815.1 970.1C819.5 965.4 826.2 959.9 830.0 957.6C833.8 955.3 835.1 958.5 838.0 956.4C840.9 954.3 844.6 947.5 847.1 945.0C849.6 942.5 849.8 944.6 852.8 941.6C855.8 938.6 861.4 931.8 865.4 926.7C869.4 921.6 873.0 916.5 876.8 910.8C880.6 905.1 885.2 898.0 888.2 892.5C891.2 887.0 892.4 883.7 895.1 877.6C897.8 871.5 901.2 863.3 904.2 855.9C907.2 848.5 910.6 840.0 913.3 833.1C916.0 826.2 917.9 820.1 920.2 814.8C922.5 809.5 925.1 805.3 927.0 801.1C928.9 796.9 930.1 793.9 931.6 789.7C933.1 785.5 935.4 778.3 936.2 776.0" fill="none" stroke="#1a6fdf" stroke-width="4.7" stroke-linejoin="round" stroke-linecap="round"/>
</g>
<line x1="90.1" y1="161.5" x2="588.6" y2="161.5" stroke="#000" stroke-width="3.3" stroke-dasharray="14.1 11.3" stroke-dashoffset="0.0"/>
<line x1="588.6" y1="161.7" x2="588.6" y2="496.6" stroke="#000" stroke-width="3.8" stroke-dasharray="14.1 11.3" stroke-dashoffset="0.0"/>
<line x1="77.2" y1="373.6" x2="462.9" y2="373.6" stroke="#000" stroke-width="3.3" stroke-dasharray="10.6 4.0" stroke-dashoffset="5.6"/>
<line x1="462.9" y1="373.3" x2="462.9" y2="496.6" stroke="#000" stroke-width="3.8" stroke-dasharray="10.6 4.0" stroke-dashoffset="0.0"/>
<line x1="193.4" y1="496.5" x2="436.9" y2="416.5" stroke="#000" stroke-width="3.0" stroke-dasharray="11.5 9.7" stroke-dashoffset="9.5"/>
<text x="433.8" y="142.2" class="big" textLength="23" lengthAdjust="spacingAndGlyphs">S</text><text x="453.3" y="150.0" class="sub">max</text>
<text x="109.6" y="357.4" class="gk">&#949;</text><text x="124.1" y="363.8" class="sub">max</text>
<text x="469.4" y="472.3" class="gk">&#963;</text><text x="486.9" y="479.4" class="sub">max</text>
<text x="382.9" y="410.0" class="E">E</text>
<line x1="838.4" y1="179.9" x2="1388.8" y2="179.9" stroke="#000" stroke-width="3.3" stroke-dasharray="14.1 11.3" stroke-dashoffset="0.0"/>
<line x1="1388.8" y1="181.9" x2="1388.8" y2="496.6" stroke="#000" stroke-width="3.8" stroke-dasharray="14.1 11.3" stroke-dashoffset="0.0"/>
<line x1="850.0" y1="406.0" x2="1194.8" y2="406.0" stroke="#000" stroke-width="3.3" stroke-dasharray="14.1 11.3" stroke-dashoffset="0.0"/>
<line x1="1194.8" y1="406.0" x2="1194.8" y2="496.6" stroke="#000" stroke-width="3.8" stroke-dasharray="10.6 4.0" stroke-dashoffset="0.0"/>
<line x1="983.0" y1="498.3" x2="1194.3" y2="421.9" stroke="#000" stroke-width="3.0" stroke-dasharray="11.5 9.7" stroke-dashoffset="20.0"/>
<text x="1228.0" y="161.0" class="big" textLength="23" lengthAdjust="spacingAndGlyphs">S</text><text x="1247.1" y="167.7" class="sub">max</text>
<text x="873.0" y="391.5" class="gk">&#949;</text><text x="888.1" y="398.8" class="sub">max</text>
<text x="1202.2" y="471.6" class="gk">&#963;</text><text x="1219.2" y="478.9" class="sub">max</text>
<text x="1132.5" y="468.9" class="E">E</text>
<line x1="463.0" y1="877.2" x2="1006.2" y2="877.2" stroke="#000" stroke-width="3.3" stroke-dasharray="14.1 11.3" stroke-dashoffset="4.3"/>
<line x1="1006.5" y1="877.4" x2="1006.5" y2="1163.4" stroke="#000" stroke-width="3.8" stroke-dasharray="14.1 11.3" stroke-dashoffset="0.0"/>
<line x1="461.3" y1="1050.5" x2="826.0" y2="1050.5" stroke="#000" stroke-width="3.3" stroke-dasharray="14.1 11.3" stroke-dashoffset="6.7"/>
<line x1="826.0" y1="1052.4" x2="826.0" y2="1167.7" stroke="#000" stroke-width="3.8" stroke-dasharray="14.1 11.3" stroke-dashoffset="0.0"/>
<line x1="583.7" y1="1167.3" x2="793.4" y2="1090.0" stroke="#000" stroke-width="3.0" stroke-dasharray="11.5 9.7" stroke-dashoffset="0.3"/>
<text x="799.0" y="861.4" class="big" textLength="23" lengthAdjust="spacingAndGlyphs">S</text><text x="818.5" y="869.8" class="sub">max</text>
<text x="576.1" y="1037.9" class="gk">&#949;</text><text x="591.3" y="1045.2" class="sub">max</text>
<text x="832.2" y="1125.9" class="gk">&#963;</text><text x="849.4" y="1133.1" class="sub">max</text>
<text x="716.2" y="1140.6" class="E">E</text>
<text x="380.5" y="646.6" text-anchor="middle" class="cap">Heads</text>
<text x="1133.9" y="646.4" text-anchor="middle" class="cap">Bodies</text>
<text x="763.6" y="1313.2" text-anchor="middle" class="cap">Tails</text>
</svg>
</body></html>
